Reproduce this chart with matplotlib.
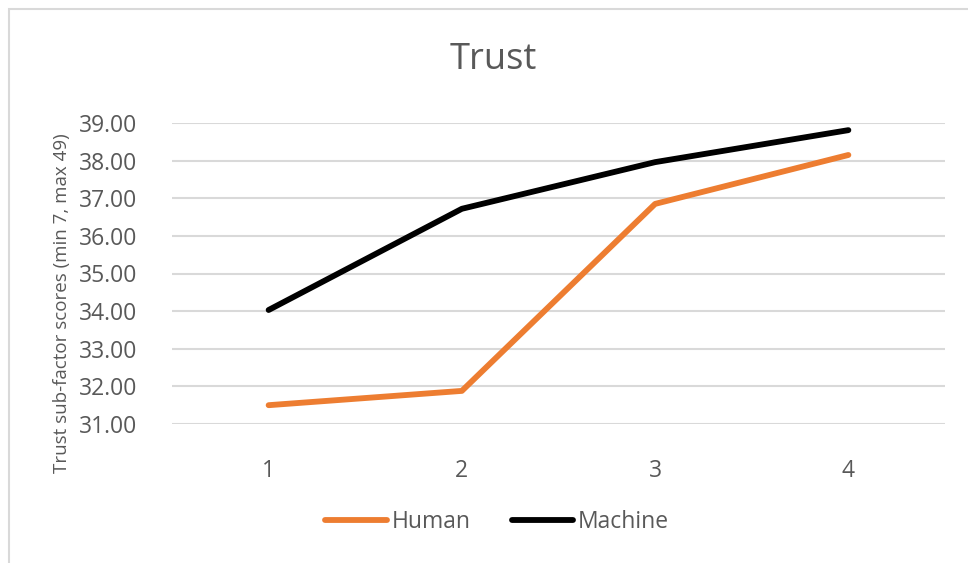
import matplotlib.pyplot as plt
from matplotlib.patches import Rectangle

# data
categories = ['1', '2', '3', '4']
human = [31.50, 31.88, 36.85, 38.15]
machine = [34.03, 36.72, 37.96, 38.81]
y_ticks = [31, 32, 33, 34, 35, 36, 37, 38, 39]

TEXT = '#595959'
GRID = '#D9D9D9'
ORANGE = '#ED7D31'

plt.rcParams['font.family'] = ['Open Sans', 'DejaVu Sans']

W, H = 968, 563
fig = plt.figure(figsize=(W / 100, H / 100), dpi=100)

# chart area outline (Excel style), running off the right/bottom edge
fig.patches.append(Rectangle((9 / W, -0.1), 1.2, 1 - 9 / H + 0.1,
                             transform=fig.transFigure, fill=False,
                             edgecolor='#D9D9D9', linewidth=1.5))

ax = fig.add_axes([172 / W, (H - 424) / H, (945 - 172) / W, (424 - 123) / H])

x = list(range(len(categories)))
ax.plot(x, human, color=ORANGE, linewidth=4.2, solid_capstyle='round',
        solid_joinstyle='round', label='Human', zorder=3)
ax.plot(x, machine, color='black', linewidth=4.2, solid_capstyle='round',
        solid_joinstyle='round', label='Machine', zorder=3)

ax.set_xlim(-0.5, len(categories) - 0.5)
ax.set_ylim(31, 39)
ax.set_yticks(y_ticks)
ax.set_yticklabels([f'{v:.2f}' for v in y_ticks])
ax.set_xticks(x)
ax.set_xticklabels(categories)
ax.grid(axis='y', color=GRID, linewidth=1.5)
ax.set_axisbelow(True)
for s in ax.spines.values():
    s.set_visible(False)
ax.tick_params(axis='both', length=0, colors=TEXT, labelsize=16.5)
ax.tick_params(axis='y', pad=25)
ax.tick_params(axis='x', pad=25)

fig.text(62 / W, 1 - 303 / H, 'Trust sub-factor scores (min 7, max 49)',
         rotation=90, ha='center', va='center', color=TEXT, fontsize=13.5)

fig.text(493 / W, 1 - 60 / H, 'Trust', ha='center', va='center',
         fontsize=26, color=TEXT)

leg = fig.legend(loc='center', bbox_to_anchor=(497 / W, 1 - 522 / H),
                 ncol=2, frameon=False, fontsize=16.5, handlelength=2.7,
                 handletextpad=0.2, columnspacing=1.8, labelcolor=TEXT)

fig.savefig('out.png', dpi=100)
